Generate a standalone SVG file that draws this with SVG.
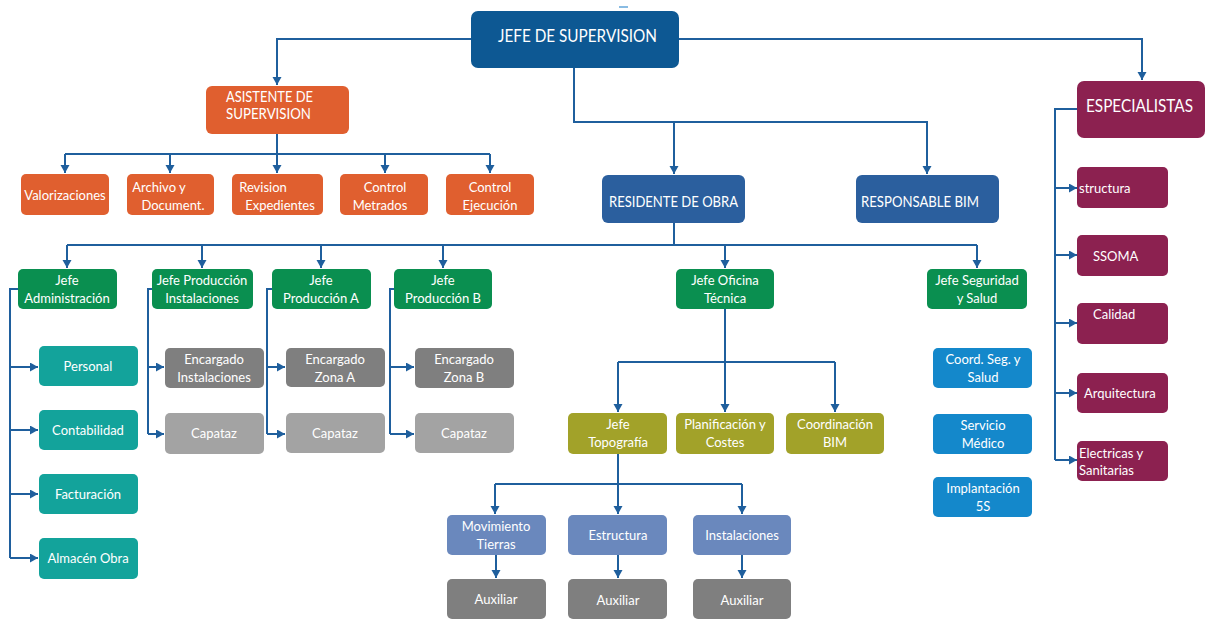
<svg xmlns="http://www.w3.org/2000/svg" width="1206" height="621" viewBox="0 0 1206 621">
  <style>
    .box { stroke: none; }
    .t { font-family: Lato, "Liberation Sans", sans-serif; font-size: 13px; fill: #ffffff; text-anchor: middle; }
    .ts { text-anchor: start; }
    .big { font-size: 15px; }
    .hd { font-size: 17px; }
    .jefe { fill: #0d5893; }
    .res { fill: #2b5f9e; }
    .asi { fill: #e05f2f; }
    .esp { fill: #8c2150; }
    .grn { fill: #0a8f50; }
    .teal { fill: #13a39b; }
    .gdk { fill: #7f7f7f; }
    .glt { fill: #a3a3a3; }
    .olv { fill: #a2a229; }
    .bgr { fill: #6a88bd; }
    .lbl { fill: #1488cb; }
    .conn path, .conn line { fill: none; stroke: #1f5f9d; stroke-width: 2; }
    .arr { marker-end: url(#ah); }
  </style>
  <defs>
    <marker id="ah" markerUnits="userSpaceOnUse" markerWidth="10" markerHeight="10" refX="8" refY="4.5" orient="auto">
      <path d="M0,0 L8,4.5 L0,9 Z" fill="#1f5f9d"/>
    </marker>
  </defs>

  <!-- stray tick above the head box -->
  <line x1="619" y1="7" x2="628" y2="7" stroke="#3a8fd0" stroke-width="1.2"/>

  <g class="conn">
    <!-- head to first level -->
    <path class="arr" d="M471,39 H277 V85"/>
    <path class="arr" d="M679,39 H1142 V80"/>
    <path class="arr" d="M574,68 V122 H674 V174"/>
    <path class="arr" d="M674,122 H927 V174"/>
    <!-- assistant branch -->
    <path d="M277,134 V154 M65,154 H490"/>
    <path class="arr" d="M65,154 V173"/>
    <path class="arr" d="M170,154 V173"/>
    <path class="arr" d="M277,154 V173"/>
    <path class="arr" d="M385,154 V173"/>
    <path class="arr" d="M490,154 V173"/>
    <!-- resident branch -->
    <path d="M674,223 V245 M67,245 H977"/>
    <path class="arr" d="M67,245 V268"/>
    <path class="arr" d="M202,245 V268"/>
    <path class="arr" d="M321,245 V268"/>
    <path class="arr" d="M443,245 V268"/>
    <path class="arr" d="M725,245 V268"/>
    <path class="arr" d="M977,245 V268"/>
    <!-- administration -->
    <path d="M18,289 H10 V558"/>
    <path class="arr" d="M10,367 H38"/>
    <path class="arr" d="M10,430 H38"/>
    <path class="arr" d="M10,494 H38"/>
    <path class="arr" d="M10,558 H38"/>
    <!-- production installations -->
    <path d="M152,289 H148 V434"/>
    <path class="arr" d="M148,367 H164"/>
    <path class="arr" d="M148,434 H164"/>
    <!-- production A -->
    <path d="M272,289 H267 V434"/>
    <path class="arr" d="M267,367 H285"/>
    <path class="arr" d="M267,434 H285"/>
    <!-- production B -->
    <path d="M394,289 H390 V434"/>
    <path class="arr" d="M390,367 H414"/>
    <path class="arr" d="M390,434 H414"/>
    <!-- technical office -->
    <path d="M725,309 V362 M618,362 H835"/>
    <path class="arr" d="M618,362 V412"/>
    <path class="arr" d="M725,362 V412"/>
    <path class="arr" d="M835,362 V412"/>
    <!-- topography -->
    <path d="M618,454 V484 M495,484 H742"/>
    <path class="arr" d="M495,484 V514"/>
    <path class="arr" d="M618,484 V514"/>
    <path class="arr" d="M742,484 V514"/>
    <path class="arr" d="M496,555 V578"/>
    <path class="arr" d="M618,555 V578"/>
    <path class="arr" d="M742,555 V578"/>
    <!-- specialists -->
    <path d="M1077,109 H1055 V460"/>
    <path class="arr" d="M1055,188 H1077"/>
    <path class="arr" d="M1055,255 H1077"/>
    <path class="arr" d="M1055,323 H1077"/>
    <path class="arr" d="M1055,393 H1077"/>
    <path class="arr" d="M1055,460 H1077"/>
  </g>

  <g id="jefe-supervision">
    <rect class="box jefe" x="471" y="11" width="208" height="57" rx="7"/>
    <text class="t ts hd" x="498" y="42" textLength="159" lengthAdjust="spacingAndGlyphs">JEFE DE SUPERVISION</text>
  </g>

  <g id="asistente">
    <rect class="box asi" x="206" y="86" width="143" height="48" rx="6"/>
    <text class="t ts big" x="226" y="102" textLength="87" lengthAdjust="spacingAndGlyphs">ASISTENTE DE</text>
    <text class="t ts big" x="226" y="119" textLength="85" lengthAdjust="spacingAndGlyphs">SUPERVISION</text>
  </g>
  <g id="valorizaciones">
    <rect class="box asi" x="21" y="174" width="88" height="41" rx="5"/>
    <text class="t" x="65" y="200">Valorizaciones</text>
  </g>
  <g id="archivo">
    <rect class="box asi" x="127" y="174" width="87" height="41" rx="5"/>
    <text class="t" x="159" y="192">Archivo y</text>
    <text class="t" x="173" y="210">Document.</text>
  </g>
  <g id="revision">
    <rect class="box asi" x="232" y="174" width="91" height="41" rx="5"/>
    <text class="t" x="263" y="192">Revision</text>
    <text class="t" x="280" y="210">Expedientes</text>
  </g>
  <g id="control-metrados">
    <rect class="box asi" x="340" y="174" width="88" height="41" rx="5"/>
    <text class="t" x="385" y="192">Control</text>
    <text class="t" x="380" y="210">Metrados</text>
  </g>
  <g id="control-ejecucion">
    <rect class="box asi" x="446" y="174" width="88" height="41" rx="5"/>
    <text class="t" x="490" y="192">Control</text>
    <text class="t" x="490" y="210">Ejecución</text>
  </g>

  <g id="residente">
    <rect class="box res" x="602" y="175" width="143" height="48" rx="6"/>
    <text class="t ts big" x="609" y="207" textLength="129" lengthAdjust="spacingAndGlyphs">RESIDENTE DE OBRA</text>
  </g>
  <g id="responsable-bim">
    <rect class="box res" x="856" y="175" width="143" height="48" rx="6"/>
    <text class="t ts big" x="861" y="207" textLength="118" lengthAdjust="spacingAndGlyphs">RESPONSABLE BIM</text>
  </g>

  <g id="especialistas">
    <rect class="box esp" x="1077" y="81" width="128" height="57" rx="7"/>
    <text class="t ts hd" x="1086" y="112" textLength="107" lengthAdjust="spacingAndGlyphs">ESPECIALISTAS</text>
  </g>
  <g id="esp-estructura">
    <rect class="box esp" x="1077" y="167" width="91" height="41" rx="5"/>
    <text class="t ts" x="1079" y="193">structura</text>
  </g>
  <g id="esp-ssoma">
    <rect class="box esp" x="1077" y="235" width="91" height="41" rx="5"/>
    <text class="t ts" x="1093" y="261">SSOMA</text>
  </g>
  <g id="esp-calidad">
    <rect class="box esp" x="1077" y="303" width="91" height="41" rx="5"/>
    <text class="t ts" x="1093" y="319">Calidad</text>
  </g>
  <g id="esp-arquitectura">
    <rect class="box esp" x="1077" y="373" width="91" height="40" rx="5"/>
    <text class="t ts" x="1084" y="398">Arquitectura</text>
  </g>
  <g id="esp-electricas">
    <rect class="box esp" x="1077" y="441" width="91" height="40" rx="5"/>
    <text class="t ts" x="1079" y="458">Electricas y</text>
    <text class="t ts" x="1079" y="475">Sanitarias</text>
  </g>

  <g id="jefe-administracion">
    <rect class="box grn" x="18" y="269" width="99" height="40" rx="5"/>
    <text class="t" x="67" y="285">Jefe</text>
    <text class="t" x="67" y="303">Administración</text>
  </g>
  <g id="jefe-prod-instalaciones">
    <rect class="box grn" x="152" y="269" width="101" height="40" rx="5"/>
    <text class="t" x="202" y="285">Jefe Producción</text>
    <text class="t" x="202" y="303">Instalaciones</text>
  </g>
  <g id="jefe-prod-a">
    <rect class="box grn" x="272" y="269" width="99" height="40" rx="5"/>
    <text class="t" x="321" y="285">Jefe</text>
    <text class="t" x="321" y="303">Producción A</text>
  </g>
  <g id="jefe-prod-b">
    <rect class="box grn" x="394" y="269" width="98" height="40" rx="5"/>
    <text class="t" x="443" y="285">Jefe</text>
    <text class="t" x="443" y="303">Producción B</text>
  </g>
  <g id="jefe-oficina-tecnica">
    <rect class="box grn" x="676" y="269" width="98" height="40" rx="5"/>
    <text class="t" x="725" y="285">Jefe Oficina</text>
    <text class="t" x="725" y="303">Técnica</text>
  </g>
  <g id="jefe-seguridad">
    <rect class="box grn" x="927" y="269" width="100" height="40" rx="5"/>
    <text class="t" x="977" y="285">Jefe Seguridad</text>
    <text class="t" x="977" y="303">y Salud</text>
  </g>

  <g id="personal">
    <rect class="box teal" x="39" y="346" width="99" height="40" rx="5"/>
    <text class="t" x="88" y="371">Personal</text>
  </g>
  <g id="contabilidad">
    <rect class="box teal" x="39" y="410" width="99" height="40" rx="5"/>
    <text class="t" x="88" y="435">Contabilidad</text>
  </g>
  <g id="facturacion">
    <rect class="box teal" x="39" y="474" width="99" height="40" rx="5"/>
    <text class="t" x="88" y="499">Facturación</text>
  </g>
  <g id="almacen">
    <rect class="box teal" x="39" y="538" width="99" height="41" rx="5"/>
    <text class="t" x="88" y="563">Almacén Obra</text>
  </g>

  <g id="encargado-instalaciones">
    <rect class="box gdk" x="165" y="348" width="99" height="40" rx="5"/>
    <text class="t" x="214" y="364">Encargado</text>
    <text class="t" x="214" y="382">Instalaciones</text>
  </g>
  <g id="capataz-instalaciones">
    <rect class="box glt" x="165" y="413" width="99" height="41" rx="5"/>
    <text class="t" x="214" y="438">Capataz</text>
  </g>
  <g id="encargado-zona-a">
    <rect class="box gdk" x="286" y="348" width="99" height="39" rx="5"/>
    <text class="t" x="335" y="364">Encargado</text>
    <text class="t" x="335" y="382">Zona A</text>
  </g>
  <g id="capataz-a">
    <rect class="box glt" x="286" y="413" width="99" height="40" rx="5"/>
    <text class="t" x="335" y="438">Capataz</text>
  </g>
  <g id="encargado-zona-b">
    <rect class="box gdk" x="415" y="348" width="99" height="40" rx="5"/>
    <text class="t" x="464" y="364">Encargado</text>
    <text class="t" x="464" y="382">Zona B</text>
  </g>
  <g id="capataz-b">
    <rect class="box glt" x="415" y="413" width="99" height="40" rx="5"/>
    <text class="t" x="464" y="438">Capataz</text>
  </g>

  <g id="jefe-topografia">
    <rect class="box olv" x="568" y="413" width="99" height="41" rx="5"/>
    <text class="t" x="618" y="429">Jefe</text>
    <text class="t" x="618" y="447">Topografía</text>
  </g>
  <g id="planificacion">
    <rect class="box olv" x="676" y="413" width="98" height="41" rx="5"/>
    <text class="t" x="725" y="429">Planificación y</text>
    <text class="t" x="725" y="447">Costes</text>
  </g>
  <g id="coordinacion-bim">
    <rect class="box olv" x="786" y="413" width="98" height="41" rx="5"/>
    <text class="t" x="835" y="429">Coordinación</text>
    <text class="t" x="835" y="447">BIM</text>
  </g>

  <g id="movimiento-tierras">
    <rect class="box bgr" x="447" y="515" width="99" height="40" rx="5"/>
    <text class="t" x="496" y="531">Movimiento</text>
    <text class="t" x="496" y="549">Tierras</text>
  </g>
  <g id="estructura">
    <rect class="box bgr" x="568" y="515" width="99" height="40" rx="5"/>
    <text class="t" x="618" y="540">Estructura</text>
  </g>
  <g id="instalaciones">
    <rect class="box bgr" x="693" y="515" width="98" height="40" rx="5"/>
    <text class="t" x="742" y="540">Instalaciones</text>
  </g>
  <g id="auxiliar-1">
    <rect class="box gdk" x="447" y="579" width="99" height="40" rx="5"/>
    <text class="t" x="496" y="604">Auxiliar</text>
  </g>
  <g id="auxiliar-2">
    <rect class="box gdk" x="568" y="579" width="99" height="40" rx="5"/>
    <text class="t" x="618" y="605">Auxiliar</text>
  </g>
  <g id="auxiliar-3">
    <rect class="box gdk" x="693" y="579" width="98" height="40" rx="5"/>
    <text class="t" x="742" y="605">Auxiliar</text>
  </g>

  <g id="coord-seg-salud">
    <rect class="box lbl" x="933" y="348" width="99" height="40" rx="5"/>
    <text class="t" x="983" y="364">Coord. Seg. y</text>
    <text class="t" x="983" y="382">Salud</text>
  </g>
  <g id="servicio-medico">
    <rect class="box lbl" x="933" y="414" width="99" height="40" rx="5"/>
    <text class="t" x="983" y="430">Servicio</text>
    <text class="t" x="983" y="448">Médico</text>
  </g>
  <g id="implantacion-5s">
    <rect class="box lbl" x="933" y="477" width="99" height="40" rx="5"/>
    <text class="t" x="983" y="493">Implantación</text>
    <text class="t" x="983" y="511">5S</text>
  </g>
</svg>
